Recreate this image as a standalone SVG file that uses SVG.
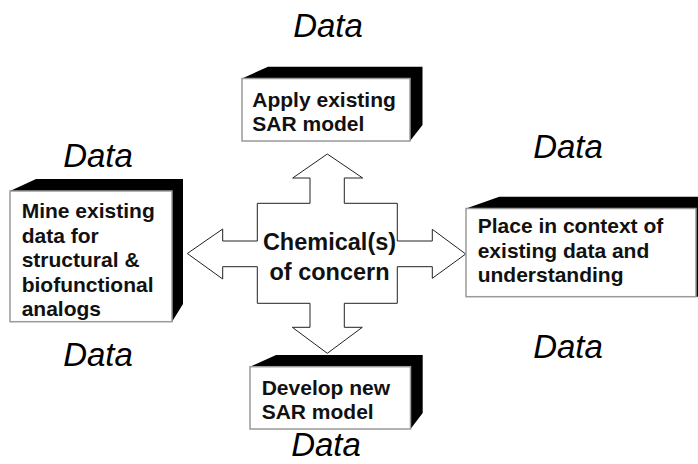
<svg xmlns="http://www.w3.org/2000/svg" width="698" height="464" viewBox="0 0 698 464">
  <style>
    .bg { fill: #ffffff; }
    .face { fill: #ffffff; stroke: #9a9a9a; stroke-width: 1.5; }
    .depth { fill: #000000; stroke: none; }
    .label { font-family: "Liberation Sans", Arial, sans-serif; font-weight: bold; font-size: 21px; fill: #111111; }
    .hubtext { font-family: "Liberation Sans", Arial, sans-serif; font-weight: bold; font-size: 23.5px; fill: #111111; text-anchor: middle; }
    .data { font-family: "Liberation Sans", Arial, sans-serif; font-style: italic; font-size: 33px; fill: #000000; text-anchor: middle; }
    .cross { fill: #ffffff; stroke: #222222; stroke-width: 1; stroke-linejoin: miter; }
  </style>

  <rect class="bg" x="0" y="0" width="698" height="464"/>

  <!-- "Data" annotations around the diagram -->
  <g id="data-labels">
    <text class="data" x="328" y="37">Data</text>
    <text class="data" x="98" y="167">Data</text>
    <text class="data" x="568" y="158">Data</text>
    <text class="data" x="98" y="366">Data</text>
    <text class="data" x="568" y="358">Data</text>
    <text class="data" x="326" y="456">Data</text>
  </g>

  <!-- central four-way arrow -->
  <g id="hub">
    <polygon class="cross" points="327.3,154 362.7,178 344.3,178 344.3,203.3 397.3,203.3 397.3,241 432.3,241 432.3,229.3 465.7,254 432.3,278.3 432.3,266.7 397.3,266.7 397.3,303.3 344.3,303.3 344.3,327.3 362.3,327.3 327.3,353.3 292.3,327.3 310,327.3 310,303.3 257.3,303.3 257.3,266.7 222.7,266.7 222.7,279 187.3,253.5 222.7,229 222.7,241 257.3,241 257.3,203.3 310,203.3 310,178 292.7,178"/>
    <text class="hubtext" x="329.5" y="250">Chemical(s)</text>
    <text class="hubtext" x="329.5" y="279.5">of concern</text>
  </g>

  <!-- top box -->
  <g id="apply-sar">
    <polygon class="depth" points="242,78.5 268,66.7 422.5,66.7 422.5,125 410,141 410,78.5"/>
    <rect class="face" x="242" y="78.5" width="168" height="62.5"/>
    <text class="label" x="252.3" y="106.7">Apply existing</text>
    <text class="label" x="252.3" y="131">SAR model</text>
  </g>

  <!-- left box -->
  <g id="mine-data">
    <polygon class="depth" points="10,191 36,179 183,179 183,304 172,321.7 172,191"/>
    <rect class="face" x="10" y="191" width="162" height="130.7"/>
    <text class="label" x="21.7" y="218">Mine existing</text>
    <text class="label" x="21.7" y="242.5">data for</text>
    <text class="label" x="21.7" y="267">structural &amp;</text>
    <text class="label" x="21.7" y="291.5">biofunctional</text>
    <text class="label" x="21.7" y="316">analogs</text>
  </g>

  <!-- right box -->
  <g id="place-context">
    <polygon class="depth" points="466,208.5 499.3,196.7 710,196.7 710,296.7 696,296.7 696,208.5"/>
    <rect class="face" x="466" y="208.5" width="230" height="88.2"/>
    <text class="label" x="477.7" y="233.3">Place in context of</text>
    <text class="label" x="477.7" y="258">existing data and</text>
    <text class="label" x="477.7" y="282">understanding</text>
  </g>

  <!-- bottom box -->
  <g id="develop-sar">
    <polygon class="depth" points="250,366.7 276,355 422.7,355 422.7,413 410.5,429 410.5,366.7"/>
    <rect class="face" x="250" y="366.7" width="160.5" height="62.3"/>
    <text class="label" x="261.7" y="395">Develop new</text>
    <text class="label" x="261.7" y="419.3">SAR model</text>
  </g>
</svg>
